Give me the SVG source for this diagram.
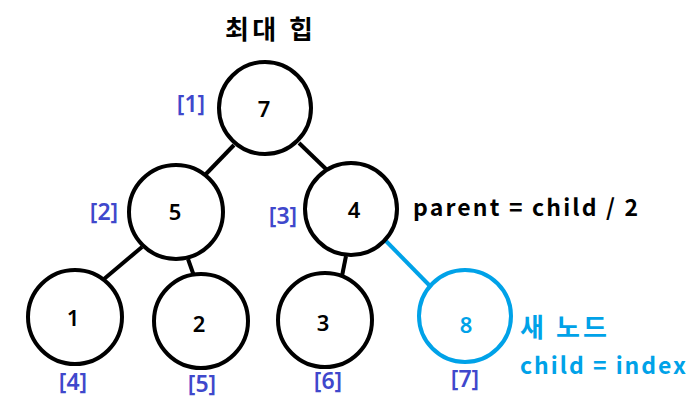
<svg xmlns="http://www.w3.org/2000/svg" width="697" height="413" viewBox="0 0 697 413">
<style>
.n{fill:#fff;stroke:#000;stroke-width:4}
.nb{fill:#fff;stroke:#00a2e8;stroke-width:4}
.v{font-family:"Noto Sans","Noto Sans CJK KR",sans-serif;font-size:22px;font-weight:600;text-anchor:middle;fill:#000}
.i{font-family:"Noto Sans","Noto Sans CJK KR",sans-serif;font-size:23px;font-weight:600;text-anchor:middle;fill:#3f48cc}
.t{font-family:"Noto Sans CJK KR","Noto Sans",sans-serif;font-weight:bold;font-size:23px}
.e{stroke:#000;stroke-width:4;fill:none}
</style>
<rect width="697" height="413" fill="#fff"/>
<text class="t" x="225" y="39" style="font-size:26px" textLength="88" lengthAdjust="spacing">최대 힙</text>
<g id="edges">
<line class="e" x1="234" y1="145" x2="205" y2="175"/>
<line class="e" x1="299" y1="143" x2="327" y2="170"/>
<line class="e" x1="142" y1="247" x2="104" y2="279"/>
<line class="e" x1="188" y1="259" x2="194" y2="276"/>
<line class="e" x1="346" y1="256" x2="342" y2="276"/>
<line x1="383" y1="238" x2="431" y2="287" stroke="#00a2e8" stroke-width="4"/>
</g>
<g id="n1"><circle class="n" cx="265" cy="108" r="46"/><text class="v" x="264" y="117">7</text><text class="i" x="191" y="112">[1]</text></g>
<g id="n2"><circle class="n" cx="176" cy="212" r="47"/><text class="v" x="175" y="220">5</text><text class="i" x="104" y="220">[2]</text></g>
<g id="n3"><circle class="n" cx="351" cy="209" r="46"/><text class="v" x="354" y="218">4</text><text class="i" x="283" y="224">[3]</text></g>
<g id="n4"><circle class="n" cx="75" cy="317" r="47"/><text class="v" x="73" y="326">1</text><text class="i" x="73" y="390">[4]</text></g>
<g id="n5"><circle class="n" cx="201" cy="321" r="47"/><text class="v" x="199" y="332">2</text><text class="i" x="202" y="392">[5]</text></g>
<g id="n6"><circle class="n" cx="325" cy="320" r="47"/><text class="v" x="323" y="331">3</text><text class="i" x="328" y="389">[6]</text></g>
<g id="n7"><circle class="nb" cx="465" cy="316" r="46"/><text class="v" x="466" y="333" style="fill:#00a2e8">8</text><text class="i" x="465" y="387">[7]</text></g>
<text class="t" x="413" y="216" fill="#000" textLength="225" lengthAdjust="spacing">parent = child / 2</text>
<text class="t" x="520" y="337" fill="#00a2e8" style="font-size:26px" textLength="87" lengthAdjust="spacing">새 노드</text>
<text class="t" x="520" y="374" fill="#00a2e8" textLength="166" lengthAdjust="spacing">child = index</text>
</svg>
